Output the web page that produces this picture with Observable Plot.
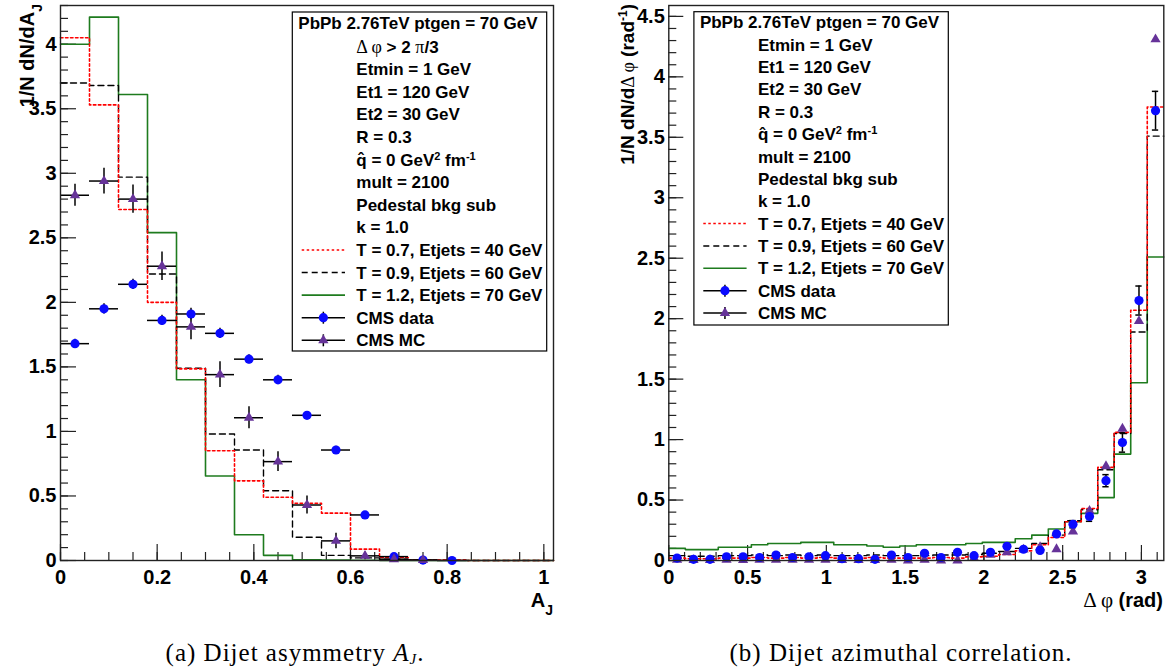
<!DOCTYPE html>
<html><head><meta charset="utf-8">
<script src="https://cdn.jsdelivr.net/npm/d3@7"></script>
<script src="https://cdn.jsdelivr.net/npm/@observablehq/plot@0.6"></script>
<style>
body{margin:0;background:#fff;}
#wrap{position:relative;width:1171px;height:670px;overflow:hidden;background:#fff;}
#left{position:absolute;left:0;top:0;}
#right{position:absolute;left:585px;top:0;}
.cap{position:absolute;top:639px;line-height:28px;font-family:"Liberation Serif",serif;font-size:25px;letter-spacing:1px;white-space:nowrap;transform:translateX(-50%);color:#000;}
.cap sub{font-size:15px;vertical-align:-3px;line-height:0;}
</style></head><body>
<div id="wrap"><div id="left"></div><div id="right"></div>
<div class="cap" style="left:295px">(a) Dijet asymmetry <i>A<sub>J</sub></i>.</div>
<div class="cap" style="left:901px">(b) Dijet azimuthal correlation.</div></div>
<script>
// ---------- Panel (a): dijet asymmetry A_J ----------
const ajEdges = [0,0.06,0.12,0.18,0.24,0.30,0.36,0.42,0.48,0.54,0.60,0.66,0.72,0.78,0.84,0.90,0.96,1.02];
const ajT07 = [4.05,3.53,2.72,2.00,1.485,0.85,0.617,0.49,0.444,0.367,0.088,0.023,0.005,0.003,0,0,0];
const ajT09 = [3.70,3.68,2.97,2.22,1.49,0.98,0.856,0.54,0.18,0.04,0.02,0.01,0.005,0.003,0,0,0];
const ajT12 = [4.00,4.21,3.61,2.54,1.40,0.655,0.20,0.04,0.005,0.003,0.002,0.001,0,0,0,0,0];
const ajCmsData = [1.68,1.95,2.14,1.86,1.91,1.76,1.56,1.40,1.125,0.856,0.353,0.03,0.003,0.0];
const ajCmsDataErr = [0.035,0.04,0.04,0.04,0.045,0.04,0.035,0.035,0.03,0.03,0.02,0.01,0.005,0.003];
const ajCmsMC = [2.83,2.94,2.80,2.28,1.81,1.44,1.106,0.766,0.43,0.152,0.036,0.01,0.003];
const ajCmsMCErr = [0.085,0.10,0.11,0.11,0.10,0.10,0.085,0.077,0.07,0.06,0.03,0.01,0.005];
const ajXTicks = [0,0.2,0.4,0.6,0.8,1];
const ajYTicks = [0,0.5,1,1.5,2,2.5,3,3.5,4];

// ---------- Panel (b): dijet azimuthal correlation ----------
const dphiEdges = [0,0.105,0.209,0.314,0.419,0.524,0.628,0.733,0.838,0.942,1.047,1.152,1.257,1.361,1.466,1.571,1.676,1.780,1.885,1.990,2.094,2.199,2.304,2.409,2.513,2.618,2.723,2.827,2.932,3.037,3.142];
const dphiT07 = [0.02,0.015,0.015,0.02,0.02,0.025,0.02,0.025,0.02,0.025,0.02,0.02,0.025,0.02,0.02,0.02,0.025,0.02,0.03,0.035,0.05,0.08,0.13,0.19,0.32,0.43,0.77,1.06,2.07,3.75];
const dphiT09 = [0.04,0.035,0.035,0.04,0.04,0.045,0.04,0.045,0.04,0.045,0.04,0.04,0.045,0.04,0.04,0.04,0.045,0.045,0.05,0.06,0.075,0.10,0.14,0.21,0.33,0.42,0.75,1.05,1.89,3.51];
const dphiT12 = [0.10,0.09,0.09,0.11,0.11,0.13,0.14,0.14,0.15,0.15,0.13,0.13,0.12,0.11,0.12,0.13,0.13,0.13,0.14,0.15,0.15,0.18,0.21,0.26,0.32,0.39,0.52,0.88,1.47,2.51];
const dphiCmsData = [0.02,0.01,0.01,0.03,0.03,0.025,0.045,0.025,0.03,0.04,0.015,0.015,0.01,0.045,0.025,0.06,0.025,0.068,0.04,0.068,0.118,0.093,0.083,0.22,0.30,0.364,0.66,0.976,2.15,3.72];
const dphiCmsDataErr = [0.012,0.012,0.012,0.012,0.012,0.012,0.012,0.012,0.012,0.012,0.012,0.012,0.012,0.012,0.012,0.012,0.012,0.012,0.012,0.012,0.012,0.012,0.015,0.02,0.03,0.04,0.05,0.08,0.12,0.16];
const dphiCmsMC = [0.005,0.003,0.003,0.005,0.003,0.005,0.005,0.005,0.005,0.005,0.003,0.003,0.003,0.005,0,0.005,0,0,0.02,0.047,0.068,0.09,0.11,0.093,0.24,0.41,0.78,1.09,1.98,4.31];
const dphiXTicks = [0,0.5,1,1.5,2,2.5,3];
const dphiYTicks = [0,0.5,1,1.5,2,2.5,3,3.5,4,4.5];

// ---------- legend texts ----------
const legendTitle = "PbPb 2.76TeV ptgen = 70 GeV";
const legendCuts = [[["g","\u0394 \u03c6"],["b"," > 2 "],["g","\u03c0"],["b","/3"]]];
const legendParams = [
  [["b","Etmin = 1 GeV"]],[["b","Et1 = 120 GeV"]],[["b","Et2 = 30 GeV"]],[["b","R = 0.3"]],
  [["b","q\u0302 = 0 GeV"],["sup","2"],["b"," fm"],["sup","-1"]],
  [["b","mult = 2100"]],[["b","Pedestal bkg sub"]],[["b","k = 1.0"]]];
const legendSeries = [
  {segs:[["b","T = 0.7, Etjets = 40 GeV"]], sym:"red"},
  {segs:[["b","T = 0.9, Etjets = 60 GeV"]], sym:"black"},
  {segs:[["b","T = 1.2, Etjets = 70 GeV"]], sym:"green"},
  {segs:[["b","CMS data"]], sym:"data"},
  {segs:[["b","CMS MC"]], sym:"mc"}];

const RED="#ff0000", GREEN="#1e7b1e", BLUE="#0a0aff", PURPLE="#663399";
const FONT="'Liberation Sans',Arial,Helvetica,sans-serif";
const fmt = d3.format("~g");

function stepPts(edges, vals){ return vals.flatMap((v,i)=>[{x:edges[i],y:v},{x:edges[i+1],y:v}]); }
function binPts(edges, vals, errs){ return vals.map((v,i)=>({lo:edges[i],hi:edges[i+1],x:(edges[i]+edges[i+1])/2,y:v,e:errs?errs[i]:0})); }

function histMarks(edges, t07, t09, t12){
  return [
    Plot.line(stepPts(edges,t12),{x:"x",y:"y",stroke:GREEN,strokeWidth:1.6}),
    Plot.line(stepPts(edges,t09),{x:"x",y:"y",stroke:"#000",strokeWidth:1.4,strokeDasharray:"6,4"}),
    Plot.line(stepPts(edges,t07),{x:"x",y:"y",stroke:RED,strokeWidth:1.6,strokeDasharray:"2.5,2.5"})
  ];
}
function tickMarks(xMajor, xMinor, yMajor, yMinor, fw, fh, maj, mn){
  return [
    Plot.ruleX(xMinor,{x:d=>d,insetTop:fh-mn,stroke:"#222",strokeWidth:1.2}),
    Plot.ruleX(xMajor,{x:d=>d,insetTop:fh-maj,stroke:"#222",strokeWidth:1.2}),
    Plot.ruleY(yMinor,{y:d=>d,insetRight:fw-mn,stroke:"#222",strokeWidth:1.2}),
    Plot.ruleY(yMajor,{y:d=>d,insetRight:fw-maj,stroke:"#222",strokeWidth:1.2}),
    Plot.axisX({ticks:xMajor,tickSize:0,tickPadding:9,tickFormat:fmt,label:null}),
    Plot.axisY({ticks:yMajor,tickSize:0,tickPadding:4,tickFormat:fmt,label:null})
  ];
}
const style = {fontFamily:FONT,fontSize:"20px",fontWeight:"bold",color:"#000",background:"#fff",overflow:"visible"};

// ---- left plot ----
const L = {w:580,h:620,ml:60,mr:27,mt:5,mb:60};
const LfW = L.w-L.ml-L.mr, LfH = L.h-L.mt-L.mb;
const ajData = binPts(ajEdges, ajCmsData, ajCmsDataErr);
const ajMC = binPts(ajEdges, ajCmsMC, ajCmsMCErr);
const plotL = Plot.plot({
  width:L.w,height:L.h,marginLeft:L.ml,marginRight:L.mr,marginTop:L.mt,marginBottom:L.mb,
  style, x:{domain:[0,1.02]}, y:{domain:[0,4.3]},
  marks:[
    ...tickMarks(ajXTicks, d3.range(0,1.001,0.05).map(v=>+v.toFixed(2)), ajYTicks, d3.range(0,4.301,0.1).map(v=>+v.toFixed(1)), LfW, LfH, 16, 8),
    ...histMarks(ajEdges, ajT07, ajT09, ajT12),
    Plot.ruleY(ajData,{y:"y",x1:"lo",x2:"hi",stroke:"#000",strokeWidth:1.5}),
    Plot.ruleX(ajData,{x:"x",y1:d=>Math.max(0,d.y-d.e),y2:d=>d.y+d.e,stroke:"#000",strokeWidth:1.5}),
    Plot.ruleY(ajMC,{y:"y",x1:"lo",x2:"hi",stroke:"#000",strokeWidth:1.5}),
    Plot.ruleX(ajMC,{x:"x",y1:d=>Math.max(0,d.y-d.e),y2:d=>d.y+d.e,stroke:"#000",strokeWidth:1.5}),
    Plot.dot(ajData,{x:"x",y:"y",r:4.6,fill:BLUE,stroke:"none"}),
    Plot.dot(ajMC,{x:"x",y:"y",r:3.8,symbol:"triangle",fill:PURPLE,stroke:"none"}),
    Plot.frame({stroke:"#222",strokeWidth:1.4})
  ]
});
document.getElementById("left").append(plotL);

// ---- right plot ----
const R = {w:586,h:620,ml:83.3,mr:7.7,mt:5,mb:60};
const RfW = R.w-R.ml-R.mr, RfH = R.h-R.mt-R.mb;
const dpData = binPts(dphiEdges, dphiCmsData, dphiCmsDataErr);
const dpMC = binPts(dphiEdges, dphiCmsMC, null);
const plotR = Plot.plot({
  width:R.w,height:R.h,marginLeft:R.ml,marginRight:R.mr,marginTop:R.mt,marginBottom:R.mb,
  style, x:{domain:[0,3.142]}, y:{domain:[0,4.59]},
  marks:[
    ...tickMarks(dphiXTicks, d3.range(0,3.101,0.1).map(v=>+v.toFixed(1)), dphiYTicks, d3.range(0,4.501,0.1).map(v=>+v.toFixed(1)), RfW, RfH, 15, 8),
    ...histMarks(dphiEdges, dphiT07, dphiT09, dphiT12),
    Plot.ruleX(dpData,{x:"x",y1:d=>Math.max(0,d.y-d.e),y2:d=>d.y+d.e,stroke:"#000",strokeWidth:1.5}),
    Plot.ruleY(dpData,{y:d=>d.y+d.e,x1:d=>d.x-0.02,x2:d=>d.x+0.02,stroke:"#000",strokeWidth:1.5}),
    Plot.ruleY(dpData,{y:d=>Math.max(0,d.y-d.e),x1:d=>d.x-0.02,x2:d=>d.x+0.02,stroke:"#000",strokeWidth:1.5}),
    Plot.dot(dpMC,{x:"x",y:"y",r:3.8,symbol:"triangle",fill:PURPLE,stroke:"none"}),
    Plot.dot(dpData,{x:"x",y:"y",r:4.6,fill:BLUE,stroke:"none"}),
    Plot.frame({stroke:"#222",strokeWidth:1.4})
  ]
});
document.getElementById("right").append(plotR);

// ---- text helpers ----
function addText(g, x, y, segs, opts={}){
  const size = opts.size||17;
  const t = g.append("text")
    .attr("font-family",FONT).attr("font-weight","bold").attr("font-size",size)
    .attr("fill","#000").attr("text-anchor",opts.anchor||"start").style("white-space","pre");
  if (opts.transform) t.attr("transform",opts.transform); else t.attr("x",x).attr("y",y);
  for (const [k,s] of segs){
    const ts = t.append("tspan").text(s);
    if (k==="g") ts.attr("font-family","'Liberation Serif','DejaVu Serif',serif").attr("font-weight","normal").attr("font-size",opts.gsize||size+1);
    if (k==="sup") ts.attr("baseline-shift","super").attr("font-size",Math.round(size*0.65));
    if (k==="sub") ts.attr("baseline-shift","sub").attr("font-size",Math.round(size*0.7));
  }
  return t;
}
function drawSym(g, sym, x0, x1, cy){
  const xm = (x0+x1)/2;
  if (sym==="red") g.append("line").attr("x1",x0).attr("x2",x1).attr("y1",cy).attr("y2",cy).attr("stroke",RED).attr("stroke-width",1.5).attr("stroke-dasharray","2.5,2.5");
  if (sym==="black") g.append("line").attr("x1",x0).attr("x2",x1).attr("y1",cy).attr("y2",cy).attr("stroke","#000").attr("stroke-width",1.4).attr("stroke-dasharray","6,4");
  if (sym==="green") g.append("line").attr("x1",x0).attr("x2",x1).attr("y1",cy).attr("y2",cy).attr("stroke",GREEN).attr("stroke-width",1.6);
  if (sym==="data"||sym==="mc"){
    g.append("line").attr("x1",x0).attr("x2",x1).attr("y1",cy).attr("y2",cy).attr("stroke","#000").attr("stroke-width",1.5);
    g.append("line").attr("x1",xm).attr("x2",xm).attr("y1",cy-6).attr("y2",cy+6).attr("stroke","#000").attr("stroke-width",1.5);
    if (sym==="data") g.append("circle").attr("cx",xm).attr("cy",cy).attr("r",4.6).attr("fill",BLUE);
    else g.append("path").attr("transform",`translate(${xm},${cy})`).attr("d",d3.symbol(d3.symbolTriangle,3.8*3.8*Math.PI)()).attr("fill",PURPLE);
  }
}
function drawLegend(svg, o, rows){
  const g = svg.append("g");
  g.append("rect").attr("x",o.x).attr("y",o.y).attr("width",o.w).attr("height",o.h).attr("fill","#fff").attr("stroke","#000").attr("stroke-width",1.2);
  addText(g, o.x+6, o.titleY+6, [["b",legendTitle]]);
  rows.forEach((row,i)=>{
    const cy = o.row0 + i*o.step;
    addText(g, o.x+64, cy+6, row.segs);
    if (row.sym) drawSym(g, row.sym, o.x+9.4, o.x+52.7, cy);
  });
}
const sL = d3.select(plotL), sR = d3.select(plotR);
drawLegend(sL, {x:292.3,y:12,w:254.4,h:339,titleY:22.5,row0:46.5,step:22.6},
  [...legendCuts.map(s=>({segs:s})), ...legendParams.map(s=>({segs:s})), ...legendSeries]);
drawLegend(sR, {x:108.9,y:11.7,w:254.4,h:313.3,titleY:22.3,row0:44.7,step:22.36},
  [...legendParams.map(s=>({segs:s})), ...legendSeries]);

// axis titles
addText(sL, 0, 0, [["b","1/N dN/dA"],["sub","J"]], {size:20, anchor:"end", transform:"translate(34,4) rotate(-90)"});
addText(sL, 553, 607, [["b","A"],["sub","J"]], {size:20, anchor:"end"});
addText(sR, 0, 0, [["b","1/N dN/d"],["g","\u0394 \u03c6"],["b"," (rad"],["sup","-1"],["b",")"]], {size:19, gsize:18, anchor:"end", transform:"translate(49,4) rotate(-90)"});
addText(sR, 578, 607, [["g","\u0394 \u03c6"],["b"," (rad)"]], {size:20, anchor:"end"});
</script>
</body></html>
